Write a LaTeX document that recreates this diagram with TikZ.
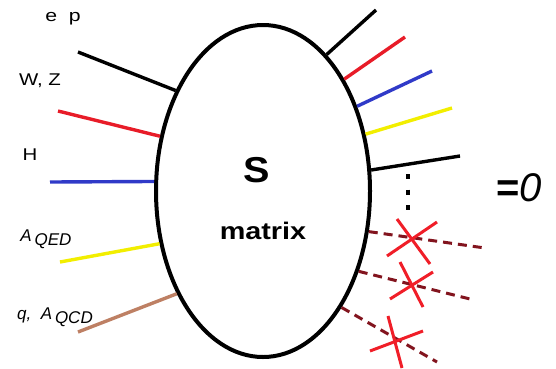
\documentclass[tikz,border=0pt]{standalone}
\usepackage{fontspec}
\setmainfont{Liberation Sans}
\usetikzlibrary{shapes.geometric}
\definecolor{lred}{RGB}{232,28,40}
\definecolor{lblue}{RGB}{48,58,200}
\definecolor{lyellow}{RGB}{242,238,0}
\definecolor{lbrown}{RGB}{190,128,100}
\definecolor{ldark}{RGB}{130,20,30}
\definecolor{xred}{RGB}{240,30,40}
\tikzset{
  leg/.style={line width=3.4pt},
  ghost/.style={line width=3pt, ldark, dash pattern=on 9pt off 6pt},
  crossline/.style={line width=3pt, xred},
  lbl/.style={font=\fontsize{17}{19}\selectfont, inner sep=0pt},
}
\begin{document}
\begin{tikzpicture}[x=1pt,y=-1pt]
\useasboundingbox (0,0) rectangle (556,368);
\node[ellipse, draw, line width=4pt, minimum width=214pt, minimum height=332pt, inner sep=0pt] (E) at (263,191) {};
% left legs
\coordinate (l1) at (78,52);
\coordinate (l2) at (58,111);
\coordinate (l3) at (50,182);
\coordinate (l4) at (60,262);
\coordinate (l5) at (78,332);
\draw[leg, black] (l1) -- (E.131.9);
\draw[leg, lred] (l2) -- (E.152.3);
\draw[leg, lblue] (l3) -- (E.175.2);
\draw[leg, lyellow] (l4) -- (E.207.9);
\draw[leg, lbrown] (l5) -- (E.230.7);
% right legs
\coordinate (r1) at (376,10);
\coordinate (r2) at (405,37);
\coordinate (r3) at (432,71);
\coordinate (r4) at (452,108);
\coordinate (r5) at (460,156);
\draw[leg, black] (E.65) -- (r1);
\draw[leg, lred] (E.54.6) -- (r2);
\draw[leg, lblue] (E.42.4) -- (r3);
\draw[leg, lyellow] (E.29) -- (r4);
\draw[leg, black] (E.11.1) -- (r5);
% dots
\coordinate (d1) at (408,174);
\coordinate (d2) at (408,213);
\draw[line width=3.6pt, dash pattern=on 5pt off 10.5pt] (d1) -- (d2);
% ghost legs
\coordinate (g1) at (485,248);
\coordinate (g2) at (470,299);
\coordinate (g3) at (437,362);
\draw[ghost] (E.-21.9) -- (g1);
\draw[ghost] (E.-40.8) -- (g2);
\draw[ghost] (E.-56.2) -- (g3);
% crosses
\draw[crossline] (387,256) -- (437,222);
\draw[crossline] (397,219) -- (430,264);
\draw[crossline] (390,299) -- (433,272);
\draw[crossline] (400,262) -- (423,307);
\draw[crossline] (370,351) -- (423,331);
\draw[crossline] (388,316) -- (402,368);
% labels
\node[lbl, xscale=1.25] (tep) at (63,19) {e\ \ p};
\node[lbl, xscale=1.2] (twz) at (40,81) {W, Z};
\node[lbl, xscale=1.2] (th) at (30,155) {H};
\node[lbl] (tqed) at (46,239) {\itshape A\,\raisebox{-4pt}{QED}};
\node[lbl] (tqcd) at (55,317) {\itshape q,\ \ A\,\raisebox{-4pt}{QCD}};
\node[inner sep=0pt, font=\fontsize{36}{38}\selectfont\bfseries, xscale=1.1] (tS) at (257,170) {S};
\node[inner sep=0pt, font=\fontsize{24}{26}\selectfont\bfseries, xscale=1.2] (tm) at (263,231) {matrix};
\node[inner sep=0pt, font=\fontsize{40}{42}\selectfont] (teq) at (519,188) {\textbf{=}\textit{0}};
\end{tikzpicture}
\end{document}
